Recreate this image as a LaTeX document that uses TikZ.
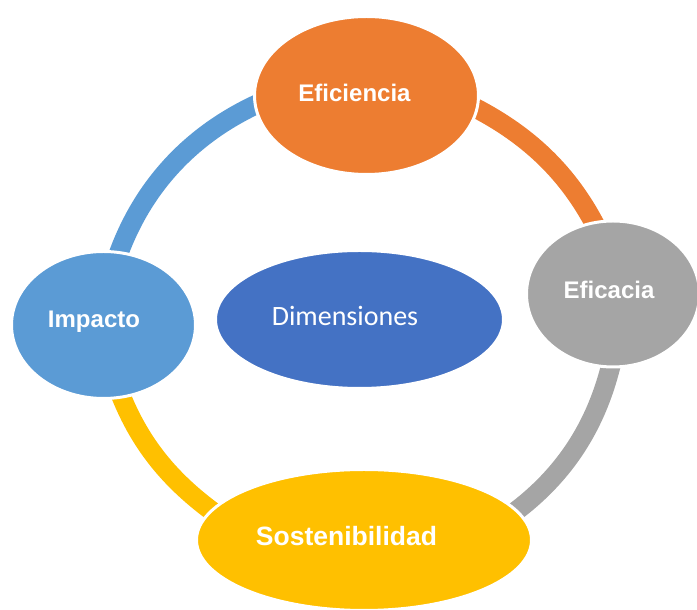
\documentclass[tikz,border=0pt]{standalone}
\usepackage{fontspec}
\setmainfont{Liberation Sans}
\newfontfamily\carlito{Carlito}
\usetikzlibrary{shapes.geometric}
\usetikzlibrary{backgrounds}

\definecolor{efiorange}{HTML}{ED7D31}
\definecolor{efagray}{HTML}{A5A5A5}
\definecolor{sosyellow}{HTML}{FFC000}
\definecolor{impblue}{HTML}{5B9BD5}
\definecolor{dimblue}{HTML}{4472C4}

\begin{document}
\begin{tikzpicture}[
      x=1pt, y=1pt,
      dimnode/.style={ellipse, draw=white, line width=3pt},
      dimtext/.style={text=white, inner sep=0pt, text depth=0pt, text height=17.2pt,
                      font=\bfseries\fontsize{#1}{#1}\selectfont},
      dimtext/.default=24,
      ring/.style={line width=19.5pt, shorten <=-14pt, shorten >=-14pt, looseness=0.86},
    ]
        \useasboundingbox (0,0) rectangle (697,610);

        \node[dimnode, fill=efiorange, minimum width=224, minimum height=158,
            label={[dimtext, xshift=-12pt, yshift=3pt]center:Eficiencia}]
            (efi) at (366.5,514.5) {};
        \node[dimnode, fill=efagray, minimum width=173, minimum height=146,
            label={[dimtext, xshift=-4pt, yshift=4pt]center:Eficacia}]
            (efa) at (613,316) {};
        \node[dimnode, fill=sosyellow, minimum width=335, minimum height=141,
            label={[dimtext=26.5, text height=19pt, xshift=-17.5pt, yshift=3.5pt]center:Sostenibilidad}]
            (sos) at (364,70) {};
        \node[dimnode, fill=impblue, minimum width=184, minimum height=147,
            label={[dimtext, xshift=-9.5pt, yshift=6pt]center:Impacto}]
            (imp) at (103.5,285) {};
        \node[dimnode, fill=dimblue, minimum width=288, minimum height=138,
            label={[dimtext=28, font=\carlito\fontsize{28}{28}\selectfont, text height=18pt,
                    xshift=-14.5pt, yshift=3pt]center:Dimensiones}]
            (dim) at (359.5,290.5) {};

        \begin{pgfonlayer}{background}
            \draw[ring, impblue] (imp.78) to[out=72, in=203] (efi.185);
            \draw[ring, efiorange] (efi.-7) to[out=-26, in=116] (efa.105);
            \draw[ring, efagray] (efa.-92) to[out=-102, in=35] (sos.11);
            \draw[ring, sosyellow] (sos.169) to[out=145, in=-70] (imp.-76);
        \end{pgfonlayer}
    \end{tikzpicture}
\end{document}
